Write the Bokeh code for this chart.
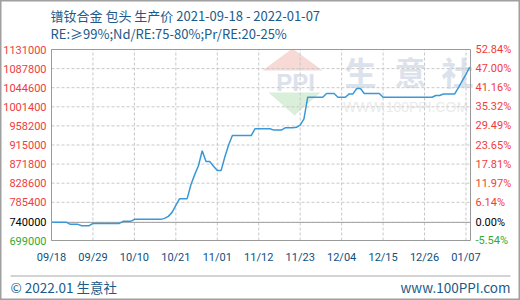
from bokeh.plotting import figure
from bokeh.models import Range1d, Label, PolyAnnotation
from bokeh.embed import file_html
from bokeh.resources import INLINE

# ---------------- data ----------------
title_text = "镨钕合金 包头 生产价 2021-09-18 - 2022-01-07"
subtitle_text = "RE:≥99%;Nd/RE:75-80%;Pr/RE:20-25%"
footer_left = "© 2022.01 生意社"
footer_right = "www.100PPI.com"

x_tick_days = [0, 11, 22, 33, 44, 55, 66, 77, 88, 99, 110]
x_tick_labels = ["09/18", "09/29", "10/10", "10/21", "11/01", "11/12",
                 "11/23", "12/04", "12/15", "12/26", "01/07"]

y_ticks = [699000, 740000, 785400, 828600, 871800, 915000,
           958200, 1001400, 1044600, 1087800, 1131000]
y_tick_labels = ["699000", "740000", "785400", "828600", "871800", "915000",
                 "958200", "1001400", "1044600", "1087800", "1131000"]
pct_tick_labels = ["-5.54%", "0.00%", "6.14%", "11.97%", "17.81%", "23.65%",
                   "29.49%", "35.32%", "41.16%", "47.00%", "52.84%"]
base_price = 740000

days = list(range(112))
prices = [
    740000, 740000, 740000, 740000, 740000,
    735500, 735500, 735500,
    732500, 732500, 732500,
    737700, 737700, 737700, 737700, 737700, 737700, 737700, 737700,
    742300, 742300, 742300,
    746800, 746800, 746800, 746800, 746800, 746800, 746800, 746800,
    749000, 753600, 762600, 778500,
    793700, 793700, 793700,
    825000, 848000, 868000, 902000,
    877500, 877500, 867000, 857100, 857100,
    888000, 915000,
    936400, 936400, 936400, 936400, 936400, 936400,
    951600, 951600, 951600, 951600, 951600,
    948700, 948700, 948700,
    953900, 953900, 953900,
    955000, 960000, 974000,
    1023100, 1023100, 1023100, 1023100, 1023100,
    1031500, 1031500, 1031500,
    1023100, 1023100, 1023100,
    1030600, 1030600,
    1042800, 1042800,
    1031500, 1031500, 1031500, 1031500, 1031500,
    1023100, 1023100, 1023100, 1023100, 1023100, 1023100, 1023100,
    1023100, 1023100, 1023100, 1023100, 1023100, 1023100, 1023100,
    1027000, 1027000,
    1030500, 1030500, 1030500, 1030500,
    1045000, 1060000, 1075000, 1091100,
]

# ---------------- layout / styles ----------------
W, H = 520, 300
FL, FR, FT, FB = 51, 470, 49, 240          # plot box edges (canvas px)
X0, X1 = 0, 111.2                          # day range of the plot box
Y0, Y1 = y_ticks[0], y_ticks[-1]           # value range of the plot box
KX = (FR - FL) / (X1 - X0)                 # px per day
KY = (FB - FT) / (Y1 - Y0)                 # px per value unit

def dx(cx):
    return X0 + (cx - FL) / KX

def dy(cy):
    return Y0 + (FB - cy) / KY

RED = "#f03c3c"
GREEN = "#33aa33"
BLUE_TXT = "#1b5a8a"
XLAB = "#0f4f80"
LINE = "#3a98d8"
GRID = "#c8c8c8"
TICKFONT = "Roboto"
TICKSIZE = "11px"
CJK = "Noto Sans CJK SC"

p = figure(width=W, height=H, output_backend="svg", toolbar_location=None,
           x_axis_type=None, y_axis_type=None,
           x_range=Range1d(dx(0), dx(W)), y_range=Range1d(dy(H), dy(0)),
           min_border=0, background_fill_color="white", border_fill_color="white")
p.outline_line_color = "#a0a0a0"
p.outline_line_width = 2

# ---------- watermark ----------
wm = "#dce2ec"
p.add_layout(PolyAnnotation(xs=[dx(262), dx(322), dx(292)], ys=[dy(70), dy(70), dy(48)],
                            fill_color="#f7d9d5", fill_alpha=1, line_color=None,
                            level="image"))
p.add_layout(PolyAnnotation(xs=[dx(268), dx(320), dx(294)], ys=[dy(92), dy(92), dy(115)],
                            fill_color="#d9efd9", fill_alpha=1, line_color=None,
                            level="image"))
p.add_layout(Label(x=dx(295), y=dy(82), text="PPI", text_align="center",
                   text_baseline="middle", text_color=wm, text_font="Liberation Sans",
                   text_font_style="bold", text_font_size="24px", level="image"))
for cx, ch in zip([360, 410, 457], ["生", "意", "社"]):
    p.add_layout(Label(x=dx(cx), y=dy(70), text=ch, text_align="center",
                       text_baseline="middle", text_color=wm, text_font=CJK,
                       text_font_style="bold", text_font_size="32px", level="image"))
p.add_layout(Label(x=dx(405), y=dy(106), text="WWW.100PPI.COM", text_align="center",
                   text_baseline="middle", text_color="#ebebeb",
                   text_font="Liberation Sans", text_font_size="14px", level="image"))

# ---------- grid ----------
p.segment(x0=x_tick_days, x1=x_tick_days, y0=[Y0] * len(x_tick_days),
          y1=[Y1] * len(x_tick_days), line_color=GRID, line_dash="3 2", line_width=1)
p.segment(x0=[X0] * len(y_ticks), x1=[X1] * len(y_ticks), y0=y_ticks, y1=y_ticks,
          line_color=GRID, line_dash="3 2", line_width=1)
p.segment(x0=[X0], x1=[X1], y0=[base_price], y1=[base_price],
          line_color="#a0a0a0", line_width=1)

# ---------- price line ----------
p.line(days, prices, line_color=LINE, line_width=1.5)

# ---------- plot box ----------
p.quad(left=[X0], right=[X1], bottom=[Y0], top=[Y1], fill_color=None,
       line_color="#9a9a9a", line_width=1)

# ---------- tick labels ----------
def tick_color(v):
    if v == base_price:
        return "black"
    if v < base_price:
        return GREEN
    return RED

for v, t, pt in zip(y_ticks, y_tick_labels, pct_tick_labels):
    c = tick_color(v)
    p.add_layout(Label(x=dx(46), y=v, text=t, text_align="right", text_baseline="middle",
                       text_color=c, text_font=TICKFONT, text_font_size=TICKSIZE))
    p.add_layout(Label(x=dx(475), y=v, text=pt, text_align="left", text_baseline="middle",
                       text_color=c, text_font=TICKFONT, text_font_size=TICKSIZE))

for d, t in zip(x_tick_days, x_tick_labels):
    p.add_layout(Label(x=d, y=dy(257), text=t, text_align="center", text_baseline="middle",
                       text_color=XLAB, text_font=TICKFONT, text_font_size=TICKSIZE))

# ---------- titles ----------
p.add_layout(Label(x=dx(50), y=dy(15), text=title_text, text_align="left",
                   text_baseline="middle", text_color=BLUE_TXT, text_font=CJK,
                   text_font_size="13px"))
p.add_layout(Label(x=dx(50), y=dy(33), text=subtitle_text, text_align="left",
                   text_baseline="middle", text_color=BLUE_TXT, text_font=CJK,
                   text_font_size="13px"))

# ---------- footer ----------
p.segment(x0=[dx(10)], x1=[dx(510)], y0=[dy(275.5)], y1=[dy(275.5)],
          line_color="#a8a8a8", line_width=1)
p.add_layout(Label(x=dx(10), y=dy(286), text=footer_left, text_align="left",
                   text_baseline="middle", text_color=BLUE_TXT, text_font=CJK,
                   text_font_size="13.5px"))
p.add_layout(Label(x=dx(510), y=dy(286), text=footer_right, text_align="right",
                   text_baseline="middle", text_color=BLUE_TXT, text_font=CJK,
                   text_font_size="13.5px"))

open("out.html", "w").write(file_html(p, INLINE))
